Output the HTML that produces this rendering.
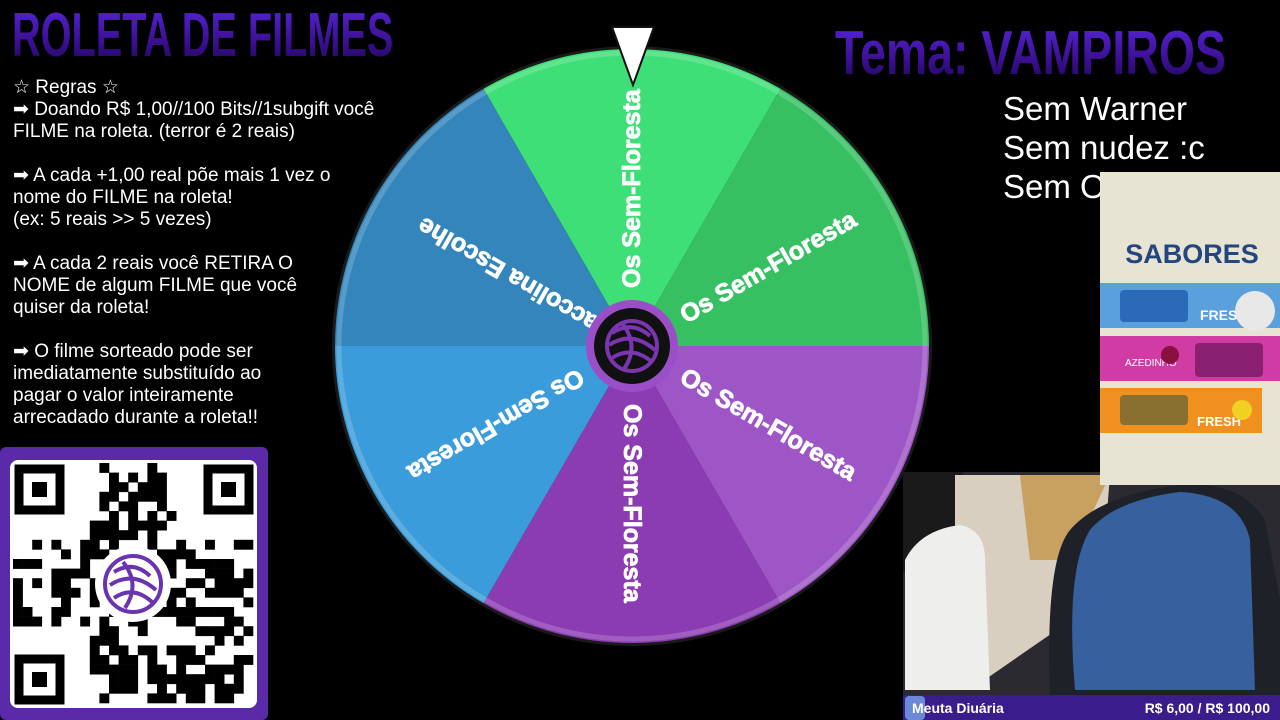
<!DOCTYPE html>
<html><head><meta charset="utf-8">
<style>
html,body{margin:0;padding:0;background:#000;}
body{width:1280px;height:720px;position:relative;overflow:hidden;font-family:"Liberation Sans",sans-serif;}
.title{position:absolute;font-weight:bold;color:#4a1ec0;background:linear-gradient(#5a28e0,#3a0f90 60%,#1a0650);-webkit-background-clip:text;background-clip:text;-webkit-text-fill-color:transparent;transform-origin:0 0;white-space:nowrap;}
.rules{position:absolute;left:13px;top:77px;color:#fff;font-size:19px;line-height:22px;}
.rules p{margin:0 0 22px 0;}
.rules p.first{margin:0;}
.notes{position:absolute;left:1003px;top:89px;color:#fff;font-size:33px;line-height:39px;}
</style></head><body>
<div class="title" style="left:12px;top:0px;font-size:62px;transform:scaleX(0.64);">ROLETA DE FILMES</div>
<div class="title" style="left:835px;top:18px;font-size:62px;transform:scaleX(0.75);">Tema: VAMPIROS</div>

<div class="rules">
<p class="first">☆ Regras ☆</p>
<p>➡ Doando R$ 1,00//100 Bits//1subgift você<br>FILME na roleta. (terror é 2 reais)</p>
<p>➡ A cada +1,00 real põe mais 1 vez o<br>nome do FILME na roleta!<br>(ex: 5 reais &gt;&gt; 5 vezes)</p>
<p>➡ A cada 2 reais você RETIRA O<br>NOME de algum FILME que você<br>quiser da roleta!</p>
<p>➡ O filme sorteado pode ser<br>imediatamente substituído ao<br>pagar o valor inteiramente<br>arrecadado durante a roleta!!</p>
</div>

<div class="notes">Sem Warner<br>Sem nudez :c<br>Sem O</div>

<svg style="position:absolute;left:0;top:0" width="1280" height="720">
<circle cx="632" cy="346" r="300" fill="#1a1a1a"/>
<path d="M632 346 L483.5 88.8 A297 297 0 0 1 780.5 88.8Z" fill="#3fdf78"/>
<path d="M632 346 L780.5 88.8 A297 297 0 0 1 929 346Z" fill="#36c062"/>
<path d="M632 346 L929 346 A297 297 0 0 1 780.5 603.2Z" fill="#9e55c6"/>
<path d="M632 346 L780.5 603.2 A297 297 0 0 1 483.5 603.2Z" fill="#8b3cb3"/>
<path d="M632 346 L483.5 603.2 A297 297 0 0 1 335 346Z" fill="#3a9cdb"/>
<path d="M632 346 L335 346 A297 297 0 0 1 483.5 88.8Z" fill="#3385bb"/>
<circle cx="632" cy="346" r="293" fill="none" stroke="rgba(255,255,255,0.18)" stroke-width="5"/>
<g font-family="Liberation Sans,sans-serif" font-weight="bold" font-size="25" fill="#fff" stroke="#fff" stroke-width="0.8" dominant-baseline="central">
<text x="690" y="346" transform="rotate(-90 632 346)">Os Sem-Floresta</text>
<text x="690" y="346" transform="rotate(-30 632 346)">Os Sem-Floresta</text>
<text x="690" y="346" transform="rotate(30 632 346)">Os Sem-Floresta</text>
<text x="690" y="346" transform="rotate(90 632 346)">Os Sem-Floresta</text>
<text x="690" y="346" transform="rotate(150 632 346)">Os Sem-Floresta</text>
<text x="660" y="346" transform="rotate(210 632 346)">Jaccolina Escolhe</text>
</g>
<circle cx="632" cy="346" r="46" fill="#9a4fc8"/>
<circle cx="632" cy="346" r="38" fill="#111"/>
<g fill="none" stroke="#7a35b0" stroke-width="4">
<circle cx="632" cy="346" r="25"/>
<path d="M612 333 Q632 320 650 336 M609 345 Q632 330 655 350 M612 358 Q632 345 652 362 M622 323 Q640 346 624 369"/>
</g>
<polygon points="612,27 654,27 633,85" fill="#fff" stroke="#111" stroke-width="2"/>

<!-- QR -->
<rect x="0" y="447" width="268" height="273" rx="6" fill="#5a2aa8"/>
<rect x="10" y="460" width="247" height="248" rx="8" fill="#fff"/>
<g id="qr" fill="#000"></g>
<g fill="none" stroke="#000" stroke-width="9">
<rect x="19" y="469" width="41" height="41"/><rect x="208" y="469" width="41" height="41"/><rect x="19" y="659" width="41" height="41"/>
</g>
<rect x="32" y="482" width="15" height="15"/><rect x="221" y="482" width="15" height="15"/><rect x="32" y="672" width="15" height="15"/>
<circle cx="133" cy="584" r="38" fill="#fff"/>
<circle cx="133" cy="584" r="28" fill="#fff" stroke="#6a34b0" stroke-width="4"/>
<path d="M114 572 Q133 560 150 576 M110 585 Q133 570 156 590 M114 598 Q133 585 152 602 M123 562 Q141 584 125 608" fill="none" stroke="#6a34b0" stroke-width="4"/>

<!-- webcam -->
<rect x="903" y="472" width="377" height="223" fill="#2a2a30"/>
<rect x="903" y="472" width="60" height="100" fill="#1a1a1a"/>
<path d="M955 475 L1110 475 L1100 600 L970 690 L955 690Z" fill="#d8cfc0"/>
<path d="M1020 475 L1110 475 L1070 560 L1030 560Z" fill="#c8a060"/>
<path d="M905 560 Q920 530 960 525 Q985 530 985 560 L990 690 L905 690Z" fill="#eeeeec"/>
<path d="M1050 695 Q1045 560 1070 530 Q1100 495 1180 485 Q1240 480 1265 520 L1280 600 L1280 695Z" fill="#1e2228"/>
<path d="M1075 690 Q1065 570 1090 530 Q1115 500 1180 492 Q1240 495 1250 540 L1255 690Z" fill="#36609e"/>
<rect x="903" y="695" width="377" height="25" fill="#3a1c8c"/>
<rect x="905" y="696" width="20" height="24" rx="4" fill="#6a8ad8"/>
<text x="912" y="713" font-family="Liberation Sans,sans-serif" font-weight="bold" font-size="14" fill="#fff">Meuta Diuária</text>
<text x="1270" y="713" text-anchor="end" font-family="Liberation Sans,sans-serif" font-weight="bold" font-size="14" fill="#fff">R$ 6,00 / R$ 100,00</text>

<!-- Sabores -->
<rect x="1100" y="172" width="180" height="313" fill="#e7e4d3"/>
<text x="1192" y="263" text-anchor="middle" font-family="Liberation Sans,sans-serif" font-weight="bold" font-size="27" fill="#24467e">SABORES</text>
<rect x="1100" y="283" width="180" height="45" fill="#5aa0dc"/>
<rect x="1120" y="290" width="68" height="32" rx="4" fill="#2a6ab8"/>
<text x="1200" y="320" font-family="Liberation Sans,sans-serif" font-weight="bold" font-size="14" fill="#fff">FRESH</text>
<ellipse cx="1255" cy="311" rx="20" ry="20" fill="#e8e8e8"/>
<rect x="1100" y="336" width="180" height="45" fill="#d03ca4"/>
<text x="1125" y="366" font-family="Liberation Sans,sans-serif" font-size="10" fill="#fff">AZEDINHO</text>
<circle cx="1170" cy="355" r="9" fill="#8a1040"/>
<rect x="1195" y="343" width="68" height="34" rx="4" fill="#8a2070"/>
<rect x="1100" y="388" width="162" height="45" fill="#f0901e"/>
<rect x="1120" y="395" width="68" height="30" rx="4" fill="#8a7030"/>
<text x="1197" y="426" font-family="Liberation Sans,sans-serif" font-weight="bold" font-size="13" fill="#fff">FRESH</text>
<circle cx="1242" cy="410" r="10" fill="#f0d020"/>
</svg>
<script>
(function(){
var g=document.getElementById('qr');var s=12345;function r(){s=(s*1103515245+12345)&0x7fffffff;return s/0x7fffffff;}
var N=25,m=9.6,ox=13,oy=463,h='';
for(var i=0;i<N;i++)for(var j=0;j<N;j++){
 if((i<8&&j<8)||(i<8&&j>16)||(i>16&&j<8))continue;
 if(r()<0.5)h+='<rect x="'+(ox+j*m).toFixed(1)+'" y="'+(oy+i*m).toFixed(1)+'" width="'+(m+0.3)+'" height="'+(m+0.3)+'"/>';
}
g.innerHTML=h;
})();
</script>
</body></html>
